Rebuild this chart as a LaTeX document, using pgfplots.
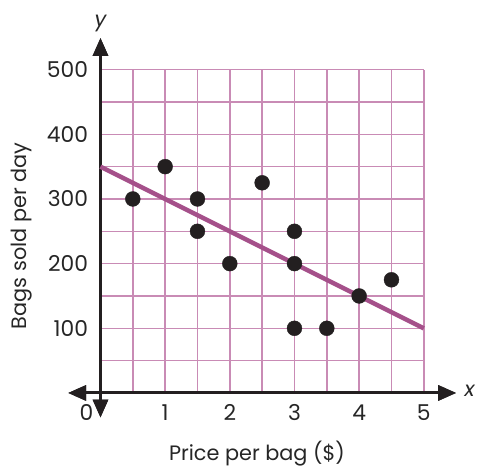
\documentclass[border=0pt]{standalone}
\usepackage{pgfplots}
\pgfplotsset{compat=1.18}
\usepackage{fontspec}
\setmainfont{Poppins}
\usetikzlibrary{arrows.meta}

\definecolor{gridpink}{HTML}{C98BB5}
\definecolor{fitline}{HTML}{A5508A}
\definecolor{dotblack}{HTML}{231F20}

\begin{document}
\begin{tikzpicture}
\begin{axis}[
  scale only axis,
  width=390bp, height=381.55bp,
  xmin=-0.5, xmax=5.5,
  ymin=-38, ymax=549,
  axis lines=middle,
  axis line style={line width=3bp, dotblack, {Triangle[length=18bp,width=15bp]}-{Triangle[length=18bp,width=15bp]}},
  xtick={1,2,3,4,5},
  ytick={100,200,300,400,500},
  extra x ticks={0},
  extra x tick style={xticklabel style={xshift=-14bp}},
  major tick length=0pt,
  hide obscured x ticks=false,
  hide obscured y ticks=false,
  ticklabel style={font=\fontsize{22}{26}\selectfont, color=black!85},
  xticklabel style={anchor=north, yshift=-8bp},
  yticklabel style={anchor=east, xshift=-9bp},
  /pgf/number format/assume math mode=true,
  xlabel={Price per bag (\$)},
  ylabel={Bags sold per day},
  every axis x label/.style={at={(axis cs:2.42,-93)}, anchor=center, font=\fontsize{21}{24}\selectfont, color=black!85},
  every axis y label/.style={at={(axis cs:-1.215,243)}, anchor=center, rotate=90, font=\fontsize{21}{24}\selectfont, color=black!85},
  clip=false,
]
% bounding box matching the reference canvas
\path (axis cs:-1.554,607.7) rectangle (axis cs:5.8,-113.8);
% grid 0..5 by 0..500
\pgfplotsinvokeforeach{0.5,1,...,5}{
  \draw[gridpink, line width=1.4bp] (axis cs:#1,0) -- (axis cs:#1,500);
}
\pgfplotsinvokeforeach{50,100,...,500}{
  \draw[gridpink, line width=1.4bp] (axis cs:0,#1) -- (axis cs:5,#1);
}
% redraw axes over the grid
\draw[line width=3bp, dotblack, {Triangle[length=18bp,width=15bp]}-{Triangle[length=18bp,width=15bp]}] (axis cs:-0.5,0) -- (axis cs:5.5,0);
\draw[line width=3bp, dotblack, {Triangle[length=18bp,width=15bp]}-{Triangle[length=18bp,width=15bp]}] (axis cs:0,-38) -- (axis cs:0,549);

\addplot[fitline, line width=4.5bp, no marks] coordinates {(0,350) (5,100)};

\addplot[only marks, mark=*, mark size=7.5bp, dotblack, mark options={draw=dotblack, fill=dotblack}] coordinates {
  (0.5,300) (1,350) (1.5,300) (1.5,250) (2,200) (2.5,325)
  (3,250) (3,200) (3,100) (3.5,100) (4,150) (4.5,175)
};

\node[font=\itshape\fontsize{21}{24}\selectfont, color=black!85] at (axis cs:0,572) {y};
\node[font=\itshape\fontsize{21}{24}\selectfont, color=black!85] at (axis cs:5.71,3) {x};
\end{axis}
\end{tikzpicture}
\end{document}
